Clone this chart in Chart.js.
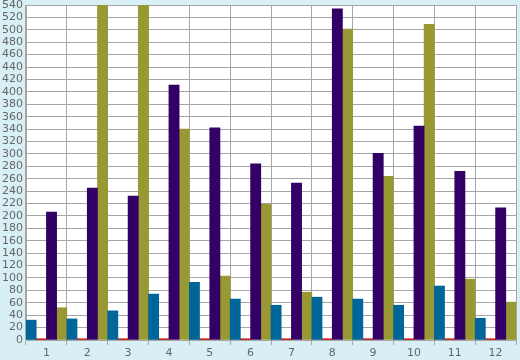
<!DOCTYPE html>
<html>
<head>
<meta charset="utf-8">
<script src="https://cdn.jsdelivr.net/npm/chart.js@4"></script>
<style>
  html, body { margin: 0; padding: 0; background: #d9eff6; }
  #wrap { width: 520px; height: 360px; position: relative; }
</style>
</head>
<body>
<div id="wrap"><canvas id="chart"></canvas></div>
<script>
// categories and series values
const categories = ['1', '2', '3', '4', '5', '6', '7', '8', '9', '10', '11', '12'];
const blueValues = [32, 34, 47, 74, 93, 66, 56, 69, 66, 56, 87, 35];
const redValues = [2, 2, 2, 2, 2, 2, 2, 2, 2, 2, 2, 2];
const purpleValues = [206, 245, 232, 411, 342, 284, 253, 534, 301, 345, 272, 213];
const oliveValues = [52, 560, 560, 340, 103, 219, 77, 501, 264, 509, 98, 61];
const yMin = 0, yMax = 540, yStep = 20;

// white plot area on the light blue background
const plotBg = {
    id: 'plotBg',
    beforeDraw(chart) {
        const a = chart.chartArea;
        const ctx = chart.ctx;
        ctx.save();
        ctx.fillStyle = '#ffffff';
        ctx.fillRect(a.left, a.top, a.right - a.left, a.bottom - a.top);
        ctx.restore();
    }
};

const ctx = document.getElementById('chart');
new Chart(ctx, {
    type: 'bar',
    data: {
        labels: categories,
        datasets: [
            { label: 'A', data: blueValues, backgroundColor: '#006699' },
            { label: 'B', data: redValues, backgroundColor: '#bb0000' },
            { label: 'C', data: purpleValues, backgroundColor: '#330066' },
            { label: 'D', data: oliveValues, backgroundColor: '#999933' }
        ]
    },
    options: {
        responsive: true,
        maintainAspectRatio: false,
        animation: false,
        layout: { padding: { top: 5, right: 4, left: 0, bottom: 0 } },
        datasets: {
            bar: { categoryPercentage: 1, barPercentage: 1, borderWidth: 0 }
        },
        plugins: {
            legend: { display: false },
            tooltip: { enabled: false }
        },
        scales: {
            x: {
                grid: { offset: true, color: '#a6a6a6', lineWidth: 1, tickLength: 5, drawTicks: true },
                border: { color: '#a6a6a6', width: 1 },
                ticks: { color: '#666666', font: { family: 'DejaVu Sans', size: 11 }, padding: 2 },
                afterFit(scale) { scale.height = 20; scale.paddingLeft = 0; scale.paddingRight = 0; }
            },
            y: {
                min: yMin,
                max: yMax,
                grid: { color: '#a6a6a6', lineWidth: 1, drawTicks: false },
                border: { color: '#a6a6a6', width: 1 },
                ticks: { stepSize: yStep, autoSkip: false, color: '#666666', font: { family: 'DejaVu Sans', size: 11 }, padding: 3 },
                afterFit(scale) { scale.width = 26; scale.paddingTop = 0; scale.paddingBottom = 0; }
            }
        }
    },
    plugins: [plotBg]
});
</script>
</body>
</html>
